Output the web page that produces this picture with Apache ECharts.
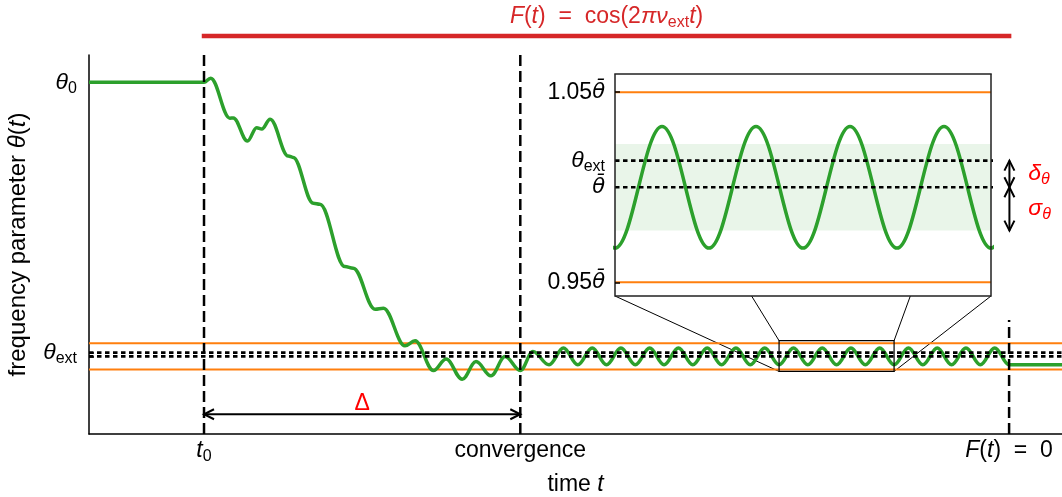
<!DOCTYPE html>
<html>
<head>
<meta charset="utf-8">
<script src="https://cdn.jsdelivr.net/npm/echarts@6/dist/echarts.min.js"></script>
<style>
  html, body { margin: 0; padding: 0; background: #fff; }
  #chart { width: 1062px; height: 497px; }
</style>
</head>
<body>
<div id="chart"></div>
<script>
// time is counted in drive periods 1/nu_ext, theta in units of theta-bar
const tStart = 4;        // t0, drive switched on
const tConverge = 15;
const tOff = 32;         // F(t) = 0
const tEnd = 33.84;
const theta0 = 2.041;
const thetaBar = 1.0;
const thetaExt = 1.014;
const sigmaTheta = 0.0228;
const bandLevels = [0.95, 1.05];
const offLineTop = 1.138;
const deltaArrowTheta = 0.78;

// zoom window shown in the inset
const insetT = [24, 28];
const insetTheta = [0.9428, 1.0596];

// flat start, noisy descent, transient
const descentT = [0, 4, 4.23, 4.90, 5.02, 5.51, 5.83, 6.01, 6.30, 6.93, 7.10, 7.80, 8.03,
  8.90, 9.19, 9.95, 10.24, 10.99, 11.34, 11.98, 12.42, 12.98, 13.46, 13.98, 14.47, 15, 15.44, 16];
const descentTheta = [2.041, 2.041, 2.057, 1.905, 1.906, 1.818, 1.869, 1.864, 1.901, 1.761, 1.756, 1.582, 1.578,
  1.341, 1.335, 1.179, 1.183, 1.040, 1.059, 0.946, 0.990, 0.913, 0.980, 0.926, 0.999, 0.946, 1.018, 0.968];
// settled oscillation: peaks and troughs, then flat after the drive stops
const settledT = [16.5, 17, 17.5, 18, 18.5, 19, 19.5, 20, 20.5, 21, 21.5, 22, 22.5, 23, 23.5, 24,
  24.5, 25, 25.5, 26, 26.5, 27, 27.5, 28, 28.5, 29, 29.5, 30, 30.5, 31, 31.5, 32, 33.84];
const settledTheta = [1.032, 0.968, 1.032, 0.968, 1.032, 0.968, 1.032, 0.968, 1.032, 0.968, 1.032, 0.968,
  1.032, 0.968, 1.032, 0.968, 1.032, 0.968, 1.032, 0.968, 1.032, 0.968, 1.032, 0.968, 1.032, 0.968,
  1.032, 0.968, 1.032, 0.968, 1.032, 0.968, 0.968];

const FONT = '"Liberation Sans", Arial, Helvetica, sans-serif';
const MATH = '"DejaVu Sans", sans-serif';
const GREEN = '#2ca02c', ORANGE = '#ff7f0e', RED = '#d62728';

function rich(size, color) {
  return {
    i: { fontFamily: FONT, fontStyle: 'italic', fontSize: size, lineHeight: 28, color: color },
    b: { fontFamily: MATH, fontStyle: 'italic', fontSize: size - 2, lineHeight: 28, color: color },
    r: { fontFamily: FONT, fontSize: size, lineHeight: 28, color: color },
    s: { fontFamily: FONT, fontSize: 16, lineHeight: 17, verticalAlign: 'bottom', color: color },
    si: { fontFamily: FONT, fontStyle: 'italic', fontSize: 16, lineHeight: 17, verticalAlign: 'bottom', color: color }
  };
}

const curveT = descentT.concat(settledT);
const curveTheta = descentTheta.concat(settledTheta);
const curve = curveT.map((t, k) => [t, curveTheta[k]]);

function renderArrow(params, api) {
  const a = api.coord([api.value(0), api.value(1)]);
  const b = api.coord([api.value(2), api.value(3)]);
  const dx = b[0] - a[0], dy = b[1] - a[1];
  const len = Math.hypot(dx, dy);
  const ux = dx / len, uy = dy / len;
  const hl = Math.min(10, len / 2), hw = 5;
  const head = (p, s) => [
    [p[0] + s * ux * hl - uy * hw, p[1] + s * uy * hl + ux * hw],
    [p[0], p[1]],
    [p[0] + s * ux * hl + uy * hw, p[1] + s * uy * hl - ux * hw]
  ];
  const st = { stroke: '#000', lineWidth: 2, fill: 'none' };
  return {
    type: 'group',
    children: [
      { type: 'line', shape: { x1: a[0], y1: a[1], x2: b[0], y2: b[1] }, style: st },
      { type: 'polyline', shape: { points: head(a, 1) }, style: st },
      { type: 'polyline', shape: { points: head(b, -1) }, style: st }
    ]
  };
}

function renderBand(params, api) {
  const p0 = api.coord([api.value(0), api.value(3)]);
  const p1 = api.coord([api.value(2), api.value(1)]);
  return {
    type: 'rect',
    shape: { x: p0[0], y: p0[1], width: p1[0] - p0[0], height: p1[1] - p0[1] },
    style: { fill: 'rgba(44,160,44,0.1)' }
  };
}

function hline(grid, x0, x1, y, style, extra) {
  return Object.assign({
    type: 'line', xAxisIndex: grid, yAxisIndex: grid, showSymbol: false, silent: true,
    data: [[x0, y], [x1, y]], lineStyle: style
  }, extra || {});
}

function vline(x, y0, y1) {
  return {
    type: 'line', xAxisIndex: 0, yAxisIndex: 0, showSymbol: false, silent: true, z: 4,
    data: [[x, y0], [x, y1]], lineStyle: { color: '#000', width: 2.5, type: [11, 5] }
  };
}

const near = (a, b) => Math.abs(a - b) < 1e-6;
const dotted = { color: '#000', width: 2.6, type: [4.5, 3.5] };
const orange = { color: ORANGE, width: 2 };
const yMin = 0.705, yMax = 2.145;

const option = {
  animation: false,
  grid: [
    { left: 89, top: 55, width: 973, height: 379, containLabel: false, outerBoundsMode: 'none' },
    { left: 615, top: 74, width: 376, height: 222, containLabel: false, outerBoundsMode: 'none' },
    { left: 89, top: 30, width: 973, height: 12, containLabel: false, outerBoundsMode: 'none' }
  ],
  xAxis: [
    {
      gridIndex: 0, type: 'value', min: 0, max: tEnd,
      axisLine: { onZero: false, lineStyle: { color: '#000', width: 1.5 } },
      axisTick: { show: false }, splitLine: { show: false },
      axisLabel: {
        customValues: [tStart, tConverge, tOff], margin: 3, color: '#000',
        fontSize: 23, fontFamily: FONT, lineHeight: 28, rich: rich(23, '#000'),
        formatter: v => near(v, tStart) ? '{i|t}{s|0}'
          : near(v, tConverge) ? '{r|convergence}' : '{i|F}{r|(}{i|t}{r|)  =  0}'
      },
      name: '{r|time }{i|t}', nameLocation: 'middle', nameGap: 37,
      nameTextStyle: { fontSize: 23, fontFamily: FONT, color: '#000', lineHeight: 28, rich: rich(23, '#000') }
    },
    { gridIndex: 1, type: 'value', min: insetT[0], max: insetT[1], show: false },
    { gridIndex: 2, type: 'value', min: 0, max: tEnd, show: false }
  ],
  yAxis: [
    {
      gridIndex: 0, type: 'value', min: yMin, max: yMax,
      axisLine: { show: true, onZero: false, lineStyle: { color: '#000', width: 1.5 } },
      splitLine: { show: false },
      axisTick: { show: true, inside: true, length: 5, customValues: [thetaBar, thetaExt, theta0], lineStyle: { color: '#000', width: 1.5 } },
      axisLabel: {
        customValues: [thetaExt, theta0], margin: 12, color: '#000',
        fontSize: 23, fontFamily: FONT, lineHeight: 28, rich: rich(23, '#000'),
        formatter: v => near(v, theta0) ? '{i|θ}{s|0}' : '{i|θ}{s|ext}'
      },
      name: 'frequency parameter {i|θ}{r|(}{i|t}{r|)}', nameLocation: 'middle', nameGap: 51,
      nameTextStyle: { fontSize: 24, fontFamily: FONT, color: '#000', lineHeight: 28, rich: rich(24, '#000') }
    },
    {
      gridIndex: 1, type: 'value', min: insetTheta[0], max: insetTheta[1], z: 25,
      axisLine: { show: false }, splitLine: { show: false },
      axisTick: { show: true, inside: true, length: 5, customValues: bandLevels, lineStyle: { color: '#000', width: 1.5 } },
      axisLabel: {
        customValues: [bandLevels[0], thetaBar, thetaExt, bandLevels[1]], margin: 10, color: '#000',
        fontSize: 23, fontFamily: FONT, lineHeight: 28, rich: rich(23, '#000'),
        formatter: v => near(v, bandLevels[1]) ? '{r|1.05}{b|θ̄}'
          : near(v, bandLevels[0]) ? '{r|0.95}{b|θ̄}'
          : near(v, thetaExt) ? '{i|θ}{s|ext}' : '{b|θ̄}'
      }
    },
    { gridIndex: 2, type: 'value', min: 0, max: 1, show: false }
  ],
  series: [
    // main axes
    hline(0, 0, tEnd, bandLevels[1], orange),
    hline(0, 0, tEnd, bandLevels[0], orange),
    {
      type: 'line', xAxisIndex: 0, yAxisIndex: 0, data: curve, showSymbol: false, silent: true,
      smooth: 0.37, smoothMonotone: 'x', z: 3, lineStyle: { color: GREEN, width: 3.5 }
    },
    hline(0, 0, tEnd, thetaExt, dotted, { z: 4 }),
    hline(0, 0, tEnd, thetaBar, dotted, { z: 4 }),
    vline(tStart, yMin, yMax),
    vline(tConverge, yMin, yMax),
    vline(tOff, yMin, offLineTop),
    {
      type: 'custom', xAxisIndex: 0, yAxisIndex: 0, renderItem: renderArrow, silent: true, z: 4,
      data: [[tStart, deltaArrowTheta, tConverge, deltaArrowTheta]]
    },
    // inset
    {
      type: 'custom', xAxisIndex: 1, yAxisIndex: 1, renderItem: renderBand, silent: true, z: 10,
      data: [[insetT[0], thetaBar - sigmaTheta, insetT[1], thetaBar + sigmaTheta]]
    },
    hline(1, insetT[0], insetT[1], bandLevels[1], orange, { z: 11 }),
    hline(1, insetT[0], insetT[1], bandLevels[0], orange, { z: 11 }),
    {
      type: 'line', xAxisIndex: 1, yAxisIndex: 1, data: curve, showSymbol: false, silent: true, clip: true,
      smooth: 0.37, smoothMonotone: 'x', z: 12, lineStyle: { color: GREEN, width: 3.5 }
    },
    hline(1, insetT[0], 28.277, thetaExt, dotted, { z: 13, clip: false }),
    hline(1, insetT[0], 28.277, thetaBar, dotted, { z: 13, clip: false }),
    {
      type: 'custom', xAxisIndex: 1, yAxisIndex: 1, renderItem: renderArrow, silent: true, clip: false, z: 13,
      data: [[28.196, thetaExt, 28.196, thetaBar], [28.196, thetaBar, 28.196, thetaBar - sigmaTheta]]
    },
    // drive on/off bar
    {
      type: 'line', xAxisIndex: 2, yAxisIndex: 2, data: [[tStart, 0.5], [tOff, 0.5]], showSymbol: false, silent: true,
      lineStyle: { color: RED, width: 4.5, cap: 'square' }
    }
  ]
};

const chart = echarts.init(document.getElementById('chart'));
chart.setOption(option);

const px = (g, p) => chart.convertToPixel({ gridIndex: g }, p);
const corners = g => [
  px(g, [insetT[0], insetTheta[1]]), px(g, [insetT[1], insetTheta[1]]),
  px(g, [insetT[0], insetTheta[0]]), px(g, [insetT[1], insetTheta[0]])
];
const inner = corners(0), outer = corners(1);
const boxShape = c => ({ x: c[0][0], y: c[0][1], width: c[1][0] - c[0][0], height: c[2][1] - c[0][1] });

const driveAt = px(2, [(tStart + tOff) / 2, 0.5]);
const deltaAt = px(0, [(tStart + tConverge) / 2, deltaArrowTheta]);
const smallDeltaAt = px(1, [28.397, (thetaExt + thetaBar) / 2]);
const sigmaAt = px(1, [28.397, thetaBar - sigmaTheta / 2]);

function label(pos, text, color, align, size) {
  return {
    type: 'text', z: 30, x: pos[0], y: pos[1], silent: true,
    style: {
      text: text, rich: rich(size, color), fill: color, fontSize: size, fontFamily: FONT,
      align: align, verticalAlign: 'middle'
    }
  };
}

chart.setOption({
  graphic: [
    ...inner.map((p, k) => ({
      type: 'line', z: 1, silent: true,
      shape: { x1: outer[k][0], y1: outer[k][1], x2: p[0], y2: p[1] },
      style: { stroke: '#000', lineWidth: 1 }
    })),
    { type: 'rect', z: 5, silent: true, shape: boxShape(inner), style: { fill: 'none', stroke: '#000', lineWidth: 1.2 } },
    { type: 'rect', z: 6, silent: true, shape: boxShape(outer), style: { fill: '#fff' } },
    { type: 'rect', z: 20, silent: true, shape: boxShape(outer), style: { fill: 'none', stroke: '#222', lineWidth: 1.5 } },
    label([driveAt[0], driveAt[1] - 19], '{i|F}{r|(}{i|t}{r|)  =  cos(2}{i|πν}{s|ext}{i|t}{r|)}', RED, 'center', 23),
    label([deltaAt[0], deltaAt[1] - 11], '{r|Δ}', 'red', 'center', 23),
    label(smallDeltaAt, '{i|δ}{si|θ}', 'red', 'left', 23),
    label(sigmaAt, '{i|σ}{si|θ}', 'red', 'left', 23)
  ]
});
</script>
</body>
</html>
